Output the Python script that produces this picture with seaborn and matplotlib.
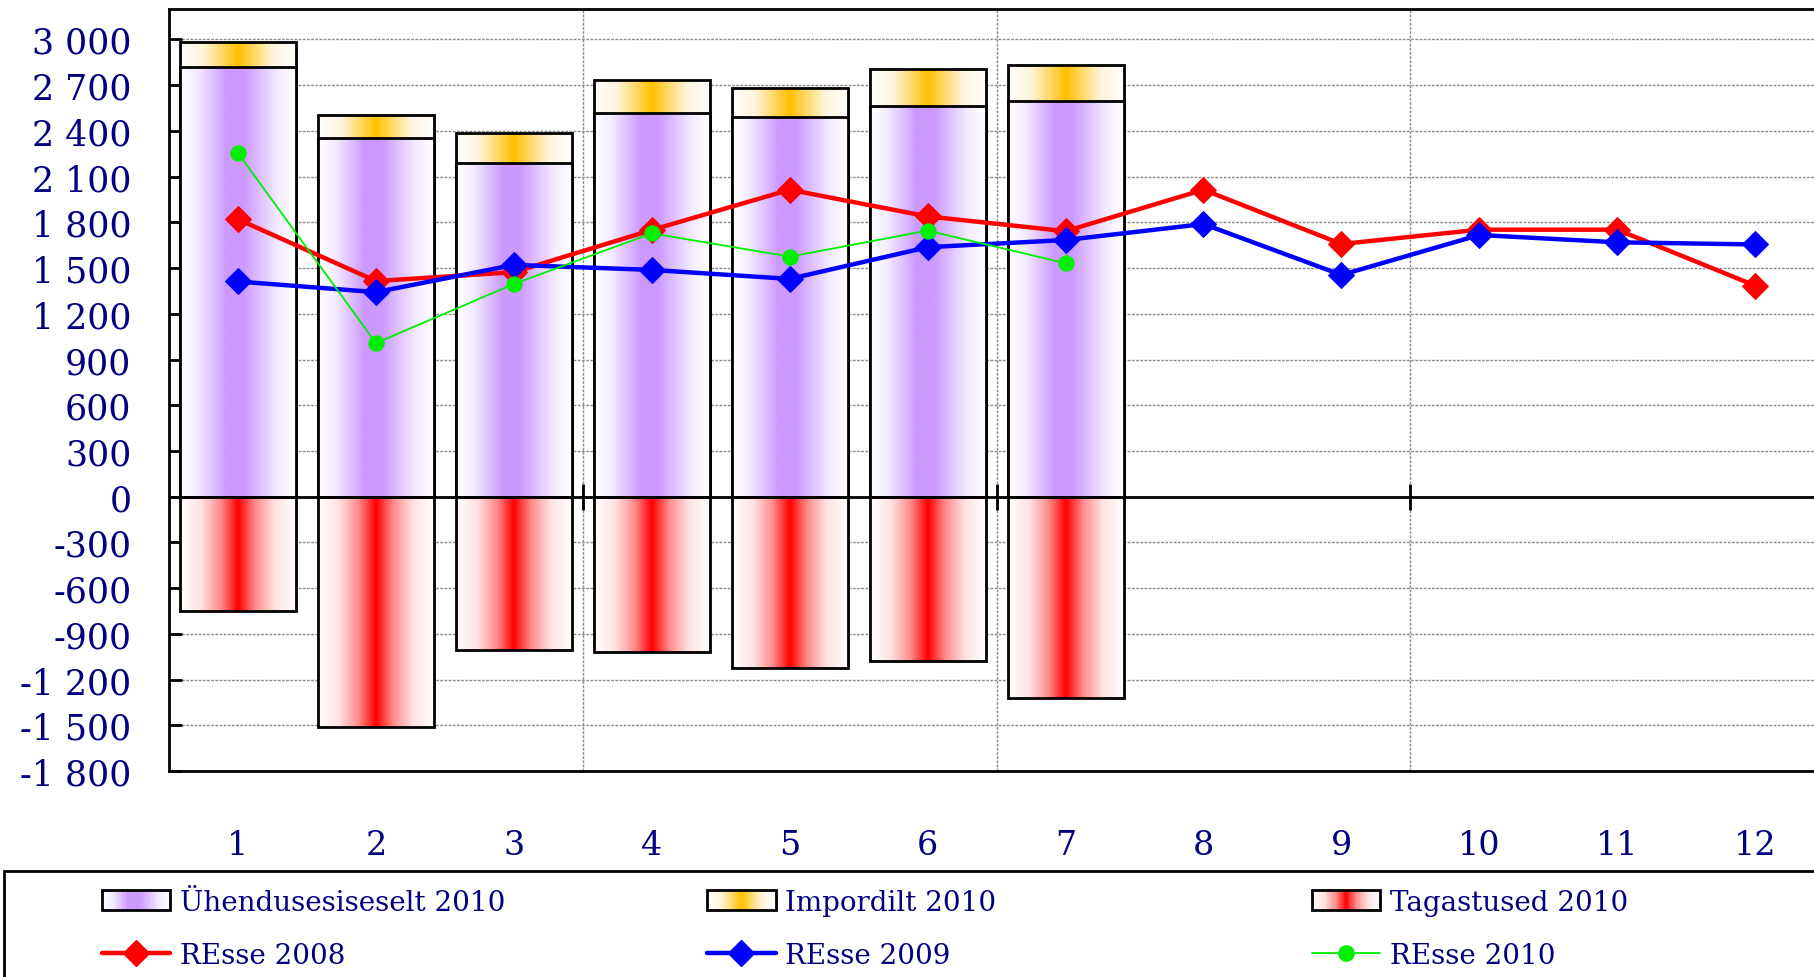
import numpy as np
import pandas as pd
import matplotlib
matplotlib.use("Agg")
import matplotlib.pyplot as plt
import seaborn as sns
from matplotlib.colors import LinearSegmentedColormap
from matplotlib.patches import Rectangle
from matplotlib.lines import Line2D
from matplotlib.legend_handler import HandlerBase
from matplotlib.ticker import FuncFormatter, MultipleLocator, FixedLocator

# 1. Data
months = list(range(1, 13))
months_2010 = months[:7]
intra_eu_2010 = [2820, 2355, 2190, 2520, 2490, 2565, 2595]   # Ühendusesiseselt 2010
imports_2010 = [165, 150, 195, 212, 194, 240, 240]           # Impordilt 2010
returns_2010 = [-748, -1512, -1006, -1020, -1126, -1081, -1321]  # Tagastused 2010
resse_2008 = [1820, 1415, 1473, 1750, 2014, 1839, 1742, 2014, 1658, 1752, 1752, 1385]
resse_2009 = [1412, 1342, 1521, 1488, 1429, 1637, 1684, 1789, 1455, 1717, 1669, 1655]
resse_2010 = [2254, 1008, 1396, 1728, 1575, 1746, 1532]

bars = pd.DataFrame({
    "Kuu": months_2010,
    "Ühendusesiseselt": intra_eu_2010,
    "Kokku": np.array(intra_eu_2010) + np.array(imports_2010),
    "Tagastused": returns_2010,
})
lines = pd.DataFrame({"Kuu": months, "REsse 2008": resse_2008, "REsse 2009": resse_2009})
lines_2010 = pd.DataFrame({"Kuu": months_2010, "REsse 2010": resse_2010})

# 2. Colours / gradients (white - colour - white across each bar)
purple_cmap = LinearSegmentedColormap.from_list(
    "purple", [(0, "#ffffff"), (0.15, "#f4ecff"), (0.4, "#cc99ff"), (0.55, "#cc99ff"),
               (0.85, "#f4ecff"), (1, "#ffffff")])
orange_cmap = LinearSegmentedColormap.from_list(
    "orange", [(0, "#ffffff"), (0.2, "#fff4dc"), (0.5, "#ffc000"), (0.8, "#fff4dc"), (1, "#ffffff")])
red_cmap = LinearSegmentedColormap.from_list(
    "red", [(0, "#ffffff"), (0.18, "#ffe2e2"), (0.35, "#ff8c8c"), (0.5, "#ff0000"),
            (0.65, "#ff8c8c"), (0.82, "#ffe2e2"), (1, "#ffffff")])
navy = "#000080"

sns.set_theme(style="white")
plt.rcParams["font.family"] = ["DejaVu Serif"]

fig = plt.figure(figsize=(18.14, 9.78), dpi=100)
ax = fig.add_axes([0.0932, 0.2106, 0.9124, 0.7792])


def fill_gradient(container, cmap, z):
    # paint each bar with a horizontal gradient, clipped to the bar outline
    grad = np.linspace(0, 1, 256)[None, :]
    for p in container:
        p.set_facecolor("none")
        p.set_zorder(z)
        x, y, w, h = p.get_x(), p.get_y(), p.get_width(), p.get_height()
        im = ax.imshow(grad, cmap=cmap, extent=[x, x + w, y, y + h], aspect="auto",
                       interpolation="bilinear", zorder=z - 0.05)
        im.set_clip_path(p)


# 3. Bars: imports stacked on intra-EU (total drawn first), returns negative
bar_kw = dict(native_scale=True, width=0.84, errorbar=None, edgecolor="black", linewidth=2)
sns.barplot(data=bars, x="Kuu", y="Kokku", ax=ax, **bar_kw)
fill_gradient(ax.containers[-1], orange_cmap, 2)
sns.barplot(data=bars, x="Kuu", y="Ühendusesiseselt", ax=ax, **bar_kw)
fill_gradient(ax.containers[-1], purple_cmap, 3)
sns.barplot(data=bars, x="Kuu", y="Tagastused", ax=ax, **bar_kw)
fill_gradient(ax.containers[-1], red_cmap, 3)

# 4. Lines
sns.lineplot(data=lines, x="Kuu", y="REsse 2008", ax=ax, color="#ff0000", lw=3.2,
             marker="D", markersize=13, markeredgecolor="#ff0000", zorder=6, legend=False)
sns.lineplot(data=lines, x="Kuu", y="REsse 2009", ax=ax, color="#0000ff", lw=3.2,
             marker="D", markersize=13, markeredgecolor="#0000ff", zorder=7, legend=False)
sns.lineplot(data=lines_2010, x="Kuu", y="REsse 2010", ax=ax, color="#00ee00", lw=1.3,
             marker="o", markersize=11, markeredgecolor="#00ee00", zorder=8, legend=False)

# 5. Axes, grid, zero line
ax.set_xlim(0.5, 12.5)
ax.set_ylim(-1800, 3200)
ax.set_xlabel("")
ax.set_ylabel("")
ax.yaxis.set_major_locator(MultipleLocator(300))
ax.yaxis.set_major_formatter(FuncFormatter(lambda v, _: f"{v:,.0f}".replace(",", " ")))
ax.xaxis.set_major_locator(FixedLocator(months))
ax.set_xticklabels([str(m) for m in months])
group_edges = np.arange(3.5, 12, 3)
ax.xaxis.set_minor_locator(FixedLocator(group_edges))

ax.tick_params(axis="y", direction="in", length=9, width=2, color="black",
               labelcolor=navy, labelsize=25, pad=27, left=True)
ax.tick_params(axis="x", which="major", length=0, labelcolor=navy, labelsize=24, pad=42)
ax.tick_params(axis="x", which="minor", length=0)

ax.set_axisbelow(True)
ax.grid(which="major", axis="y", color="#8c8c8c", lw=1, ls=(0, (2, 1)))
ax.grid(which="minor", axis="x", color="#8c8c8c", lw=1, ls=(0, (2, 1)))
ax.grid(which="major", axis="x", visible=False)

ax.axhline(0, color="black", lw=2, zorder=4)
ax.plot(group_edges, np.zeros_like(group_edges), ls="none", marker="|", ms=19, mew=2,
        color="black", zorder=4)

for s in ax.spines.values():
    s.set_visible(True)
    s.set_color("black")
    s.set_linewidth(2)


# 6. Legend (three columns, gradient swatches)
class GradientHandler(HandlerBase):
    def __init__(self, cmap):
        super().__init__()
        self.cmap = cmap

    def create_artists(self, legend, orig_handle, xdescent, ydescent, width, height, fontsize, trans):
        n = 40
        arts = []
        for i in range(n):
            arts.append(Rectangle((-xdescent + i * width / n, -ydescent), width / n + 0.3, height,
                                  facecolor=self.cmap((i + 0.5) / n), edgecolor="none", transform=trans))
        arts.append(Rectangle((-xdescent, -ydescent), width, height, facecolor="none",
                              edgecolor="black", lw=2, transform=trans))
        return arts


h_purple, h_orange, h_red = Rectangle((0, 0), 1, 1), Rectangle((0, 0), 1, 1), Rectangle((0, 0), 1, 1)
h_2008 = Line2D([], [], color="#ff0000", lw=3.2, marker="D", ms=13)
h_2009 = Line2D([], [], color="#0000ff", lw=3.2, marker="D", ms=13)
h_2010 = Line2D([], [], color="#00ee00", lw=1.3, marker="o", ms=11)

legend_cols = [
    (0.0562, [h_purple, h_2008], ["Ühendusesiseselt 2010", "REsse 2008"], purple_cmap),
    (0.390, [h_orange, h_2009], ["Impordilt 2010", "REsse 2009"], orange_cmap),
    (0.7233, [h_red, h_2010], ["Tagastused 2010", "REsse 2010"], red_cmap),
]
for x0, handles, labels, cmap in legend_cols:
    fig.legend(handles, labels, loc="upper left", bbox_to_anchor=(x0, 0.090),
               bbox_transform=fig.transFigure, frameon=False, fontsize=20,
               labelcolor=navy, handlelength=2.45, handleheight=0.75, handletextpad=0.35,
               labelspacing=0.95, borderpad=0, borderaxespad=0, numpoints=1,
               handler_map={handles[0]: GradientHandler(cmap)})

fig.add_artist(Rectangle((0.002, -0.05), 1.05, 0.1584, transform=fig.transFigure,
                         fill=False, edgecolor="black", lw=2, clip_on=False))

fig.savefig("out.png", dpi=100)
